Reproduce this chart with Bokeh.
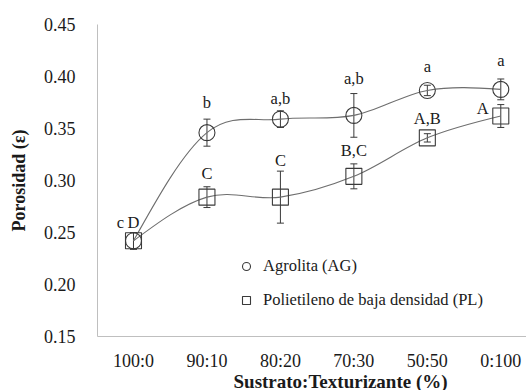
import numpy as np
from bokeh.plotting import figure
from bokeh.models import (ColumnDataSource, Whisker, TeeHead, FixedTicker, Range1d,
                          Legend, LegendItem, Title, CustomJSTickFormatter)
from bokeh.core.properties import value
from bokeh.embed import file_html
from bokeh.resources import INLINE

# ---------------- data ----------------
categories = ["100:0", "90:10", "80:20", "70:30", "50:50", "0:100"]
ag_values = [0.242, 0.346, 0.359, 0.3626, 0.3866, 0.3876]
ag_errors = [0.008, 0.013, 0.008, 0.021, 0.005, 0.010]
pl_values = [0.242, 0.284, 0.284, 0.304, 0.341, 0.362]
pl_errors = [0.008, 0.010, 0.025, 0.012, 0.004, 0.011]
ag_letters = ["c", "b", "a,b", "a,b", "a", "a"]
pl_letters = ["D", "C", "C", "B,C", "A,B", "A"]
y_ticks = [0.15, 0.20, 0.25, 0.30, 0.35, 0.40, 0.45]

FONT = "Liberation Serif"   # for glyph texts
FONT_CSS = "serif"          # for axes / legend / title (maps to Liberation Serif)
TXT = "#1a1a1a"
MARK = "#3a3a3a"
CURVE = "#6e6e6e"
AXIS = "#bfbfbf"

xs = list(range(len(categories)))

p = figure(width=526, height=390, output_backend="svg", toolbar_location=None,
           x_range=Range1d(-0.49, 5.35), y_range=Range1d(0.15, 0.45),
           min_border_left=97, min_border_right=0, min_border_top=24,
           min_border_bottom=54, outline_line_color=None)
p.grid.visible = False
p.background_fill_color = "white"
p.border_fill_color = "white"


def bezier_parts(x, y, k=1.0 / 6.0):
    """Smoothed line (cubic Bezier pieces, natural end conditions)."""
    n = len(x)
    tx = [0.0] * n
    ty = [0.0] * n
    for i in range(1, n - 1):
        tx[i] = (x[i + 1] - x[i - 1]) * k
        ty[i] = (y[i + 1] - y[i - 1]) * k
    out = dict(x0=[], y0=[], x1=[], y1=[], cx0=[], cy0=[], cx1=[], cy1=[])
    for i in range(n - 1):
        a0 = (x[i] + tx[i], y[i] + ty[i])
        a1 = (x[i + 1] - tx[i + 1], y[i + 1] - ty[i + 1])
        if i == 0:
            a0 = ((x[0] + a1[0]) / 2.0, (y[0] + a1[1]) / 2.0)
        if i == n - 2:
            a1 = ((x[n - 1] + a0[0]) / 2.0, (y[n - 1] + a0[1]) / 2.0)
        out["x0"].append(x[i]); out["y0"].append(y[i])
        out["x1"].append(x[i + 1]); out["y1"].append(y[i + 1])
        out["cx0"].append(a0[0]); out["cy0"].append(a0[1])
        out["cx1"].append(a1[0]); out["cy1"].append(a1[1])
    return out


for vals in (ag_values, pl_values):
    bz = bezier_parts(xs, vals)
    p.bezier(source=ColumnDataSource(bz), x0="x0", y0="y0", x1="x1", y1="y1",
             cx0="cx0", cy0="cy0", cx1="cx1", cy1="cy1",
             line_color=CURVE, line_width=1.1)

ag_src = ColumnDataSource(dict(x=xs, y=ag_values,
                               up=[v + e for v, e in zip(ag_values, ag_errors)],
                               lo=[v - e for v, e in zip(ag_values, ag_errors)]))
pl_src = ColumnDataSource(dict(x=xs, y=pl_values,
                               up=[v + e for v, e in zip(pl_values, pl_errors)],
                               lo=[v - e for v, e in zip(pl_values, pl_errors)]))

for src in (ag_src, pl_src):
    w = Whisker(base="x", upper="up", lower="lo", source=src, dimension="height",
                line_color=MARK, line_width=1,
                upper_head=TeeHead(size=7, line_color=MARK, line_width=1),
                lower_head=TeeHead(size=7, line_color=MARK, line_width=1))
    p.add_layout(w)

p.scatter("x", "y", source=ag_src, marker="circle", size=16, fill_alpha=0,
          line_color=MARK, line_width=1.1)
p.scatter("x", "y", source=pl_src, marker="square", size=16, fill_alpha=0,
          line_color=MARK, line_width=1.1)

# letter labels (pixel offsets are styling, kept apart from the data)
ag_dx = [-13, 0, 0, 0, 0, 0]
ag_dy = [-10, -17, -12, -15, -19, -18]
pl_dx = [0, 0, 0, 0, 0, -12]
pl_dy = [-10, -13, -11, -13, -15, -8]
pl_align = ["center"] * 5 + ["right"]
pl_yref = pl_src.data["up"][:5] + [pl_values[5]]

ag_lab_src = ColumnDataSource(dict(x=xs, y=ag_src.data["up"], t=ag_letters,
                                   dx=ag_dx, dy=ag_dy))
p.text("x", "y", text="t", source=ag_lab_src, x_offset="dx", y_offset="dy",
       text_align="center", text_baseline="alphabetic",
       text_font=value(FONT), text_font_size="16.5px", text_color=TXT)
pl_lab_src = ColumnDataSource(dict(x=xs, y=pl_yref, t=pl_letters, dx=pl_dx, dy=pl_dy,
                                   al=pl_align))
p.text("x", "y", text="t", source=pl_lab_src, x_offset="dx", y_offset="dy",
       text_align="al", text_baseline="alphabetic",
       text_font=value(FONT), text_font_size="16.5px", text_color=TXT)

# legend
r_ag = p.scatter([np.nan], [np.nan], marker="circle", size=10, fill_alpha=0,
                 line_color=MARK, line_width=1.1)
r_pl = p.scatter([np.nan], [np.nan], marker="square", size=10, fill_alpha=0,
                 line_color=MARK, line_width=1.1)
legend = Legend(items=[LegendItem(label="Agrolita (AG)", renderers=[r_ag]),
                       LegendItem(label="Polietileno de baja densidad (PL)", renderers=[r_pl])],
                location=(139, 26), orientation="vertical",
                border_line_color=None, background_fill_alpha=0,
                padding=0, margin=0, spacing=14, glyph_width=20, glyph_height=20,
                label_standoff=7, label_text_font=FONT_CSS, label_text_font_size="16.5px",
                label_text_color=TXT, label_height=20)
p.add_layout(legend)

# axes
p.xaxis.ticker = FixedTicker(ticks=xs)
p.xaxis.major_label_overrides = {i: c for i, c in enumerate(categories)}
p.yaxis.ticker = FixedTicker(ticks=y_ticks)
p.yaxis.formatter = CustomJSTickFormatter(code="return tick.toFixed(2);")
for ax in (p.xaxis[0], p.yaxis[0]):
    ax.axis_line_color = AXIS
    ax.axis_line_width = 1
    ax.major_tick_line_color = None
    ax.minor_tick_line_color = None
    ax.major_label_text_font = FONT_CSS
    ax.major_label_text_font_size = "18px"
    ax.major_label_text_color = TXT
    ax.axis_label_text_font = FONT_CSS
    ax.axis_label_text_font_size = "18px"
    ax.axis_label_text_font_style = "bold"
    ax.axis_label_text_color = TXT
p.yaxis.major_label_standoff = 16
p.xaxis.major_label_standoff = 8
p.yaxis.axis_label = "Porosidad (ε)"
p.yaxis.axis_label_standoff = 12

xt = Title(text="Sustrato:Texturizante (%)", align="left", offset=136, standoff=-10,
           text_font=FONT_CSS, text_font_size="19px", text_font_style="bold",
           text_color=TXT)
p.add_layout(xt, "below")

open("out.html", "w").write(file_html(p, INLINE))
